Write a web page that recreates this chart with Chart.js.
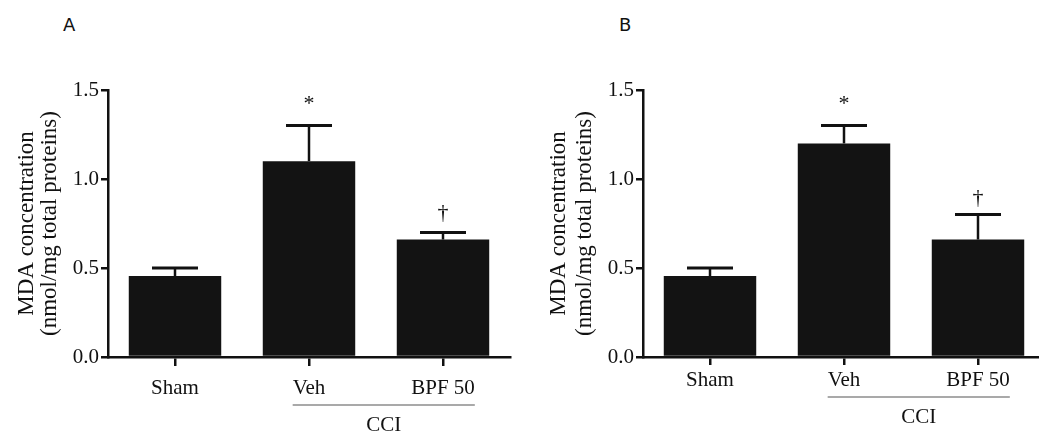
<!DOCTYPE html>
<html>
<head>
<meta charset="utf-8">
<script src="https://cdn.jsdelivr.net/npm/chart.js@4.4.1/dist/chart.umd.min.js"></script>
<style>
  html, body { margin: 0; padding: 0; background: #fff; overflow: hidden; }
  body { width: 1039px; height: 435px; position: relative; }
  canvas { position: absolute; top: 0; }
  .panel-letter { position: absolute; top: 14px; font: 18px 'DejaVu Sans', 'Open Sans', sans-serif; color: #111; }
</style>
</head>
<body>
<div class="panel-letter" style="left:63px">A</div>
<div class="panel-letter" style="left:619px">B</div>
<canvas id="chart-a" width="520" height="435" style="left:0"></canvas>
<canvas id="chart-b" width="525" height="435" style="left:520px"></canvas>
<script>
const groups = ['Sham', 'Veh', 'BPF 50'];
const meanA = [0.455, 1.1, 0.66];
const semA = [0.045, 0.2, 0.04];
const meanB = [0.455, 1.2, 0.66];
const semB = [0.045, 0.1, 0.14];
const marksA = ['', '*', '\u2020'];
const marksB = ['', '*', '\u2020'];
const yTicks = [0, 0.5, 1.0, 1.5];
const bracketLabel = 'CCI';
const bracketGroups = [1, 2];
const yTitle = ['MDA concentration', '(nmol/mg total proteins)'];

const SERIF = "'Liberation Serif', 'Times New Roman', serif";
const INK = '#111';

// error bars, significance marks and the CCI bracket
const annotate = {
  id: 'annotate',
  afterDatasetsDraw(chart, args, opts) {
    const { ctx } = chart;
    const x = chart.scales.x;
    const y = chart.scales.y;
    const means = chart.data.datasets[0].data;

    ctx.save();
    ctx.strokeStyle = INK;
    ctx.fillStyle = INK;
    means.forEach((m, i) => {
      const cx = x.getPixelForValue(i);
      const top = y.getPixelForValue(m + opts.sem[i]);
      const base = y.getPixelForValue(m);
      ctx.lineWidth = 2.5;
      ctx.beginPath();
      ctx.moveTo(cx, base);
      ctx.lineTo(cx, top);
      ctx.stroke();
      ctx.lineWidth = 3;
      ctx.beginPath();
      ctx.moveTo(cx - opts.capWidth / 2, top);
      ctx.lineTo(cx + opts.capWidth / 2, top);
      ctx.stroke();

      if (opts.marks[i]) {
        ctx.font = '22px ' + SERIF;
        ctx.textAlign = 'center';
        ctx.textBaseline = 'middle';
        ctx.fillText(opts.marks[i], cx, top - opts.markGap[i]);
      }
    });

    // bracket under the grouped categories
    ctx.font = '21px ' + SERIF;
    const [g0, g1] = bracketGroups;
    const left = x.getPixelForValue(g0) - ctx.measureText(groups[g0]).width / 2;
    const right = x.getPixelForValue(g1) + ctx.measureText(groups[g1]).width / 2;
    ctx.strokeStyle = '#8c8c8c';
    ctx.lineWidth = 1.5;
    ctx.beginPath();
    ctx.moveTo(left, opts.bracketY);
    ctx.lineTo(right, opts.bracketY);
    ctx.stroke();
    ctx.fillStyle = INK;
    ctx.textAlign = 'center';
    ctx.textBaseline = 'middle';
    ctx.fillText(bracketLabel, (left + right) / 2, opts.bracketY + 20);
    ctx.restore();
  }
};

function buildChart(id, means, sems, marks, layout) {
  return new Chart(document.getElementById(id), {
    type: 'bar',
    data: {
      labels: groups,
      datasets: [{
        data: means,
        backgroundColor: '#131313',
        borderWidth: 0,
        categoryPercentage: 1,
        barPercentage: 0.69
      }]
    },
    options: {
      responsive: false,
      animation: false,
      events: [],
      layout: { padding: { left: 0, top: 90, right: layout.right, bottom: 0 } },
      plugins: {
        legend: { display: false },
        tooltip: { enabled: false },
        annotate: {
          sem: sems,
          marks,
          markGap: layout.markGap,
          capWidth: 46,
          bracketY: layout.bracketY
        }
      },
      scales: {
        x: {
          offset: true,
          grid: {
            offset: false,
            drawOnChartArea: false,
            drawTicks: true,
            tickLength: layout.xTick,
            color: INK,
            lineWidth: 2.5
          },
          border: { display: true, color: INK, width: 2.5 },
          ticks: {
            color: INK,
            padding: layout.xPad,
            maxRotation: 0,
            font: { family: SERIF, size: 21 }
          },
          afterFit: (scale) => { scale.height = 435 - 357; }
        },
        y: {
          min: 0,
          max: 1.5,
          afterBuildTicks: (scale) => { scale.ticks = yTicks.map((v) => ({ value: v })); },
          grid: {
            drawOnChartArea: false,
            drawTicks: true,
            tickLength: 7,
            color: INK,
            lineWidth: 2.5
          },
          border: { display: true, color: INK, width: 2.5 },
          ticks: {
            color: INK,
            padding: 2,
            font: { family: SERIF, size: 21 },
            callback: (v) => Number(v).toFixed(1)
          },
          title: {
            display: true,
            text: yTitle,
            color: INK,
            font: { family: SERIF, size: 23, lineHeight: layout.titleLine },
            padding: { top: layout.titlePad, bottom: 0 }
          },
          afterFit: (scale) => { scale.width = layout.axisLeft; }
        }
      }
    },
    plugins: [annotate]
  });
}

buildChart('chart-a', meanA, semA, marksA, {
  right: 10, axisLeft: 108, xTick: 9, xPad: 10, titlePad: 15, titleLine: 1.0,
  markGap: [0, 21, 19], bracketY: 405
});
buildChart('chart-b', meanB, semB, marksB, {
  right: 0, axisLeft: 123, xTick: 8, xPad: 3, titlePad: 26, titleLine: 1.13,
  markGap: [0, 21, 16], bracketY: 397
});
</script>
</body>
</html>
